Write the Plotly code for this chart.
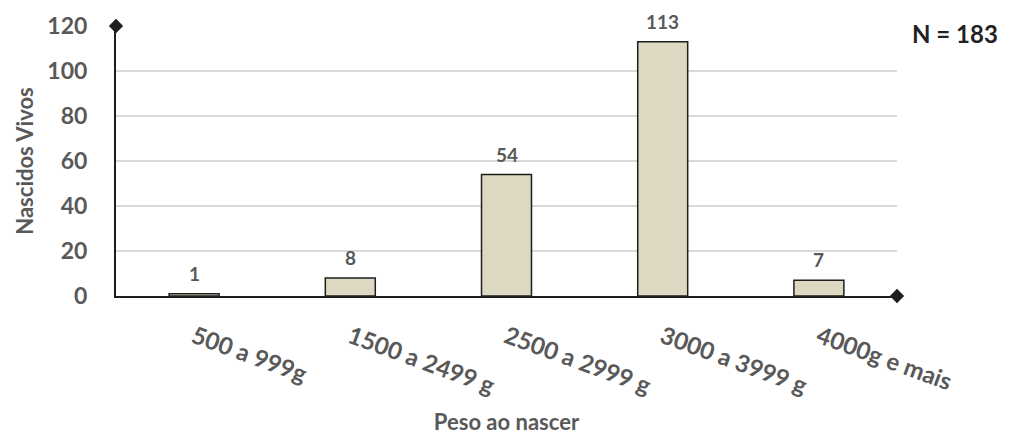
import plotly.graph_objects as go

categorias = ["500 a 999g", "1500 a 2499 g", "2500 a 2999 g", "3000 a 3999 g", "4000g e mais"]
nascidos = [1, 8, 54, 113, 7]
y_ticks = [0, 20, 40, 60, 80, 100, 120]
total = "N = 183"

FONT = "Lato, Open Sans, sans-serif"
GRAY = "#595959"

fig = go.Figure()
fig.add_trace(go.Bar(
    x=categorias,
    y=nascidos,
    width=0.32,
    marker=dict(color="#ddd8c1", line=dict(color="#1e1e1e", width=1.5)),
    showlegend=False,
))
# diamond ends of the axes
fig.add_trace(go.Scatter(
    x=[0, 1], y=[120, 0], xaxis="x2", mode="markers",
    marker=dict(symbol="diamond", size=11, color="#1e1e1e"),
    cliponaxis=False, showlegend=False, hoverinfo="skip",
))

fig.update_layout(
    width=1001, height=427,
    paper_bgcolor="white", plot_bgcolor="white",
    margin=dict(l=108, r=112, t=18, b=139),
    font=dict(family=FONT, color=GRAY),
    xaxis=dict(
        automargin=False,
        showline=True, linecolor="#1e1e1e", linewidth=2,
        tickangle=20, tickfont=dict(size=24, color=GRAY, weight="bold"),
        ticks="", ticklabelstandoff=16,
        title=dict(text="<b>Peso ao nascer</b>", font=dict(size=22, color=GRAY), standoff=17),
    ),
    xaxis2=dict(overlaying="x", range=[0, 1], visible=False),
    yaxis=dict(
        automargin=False,
        range=[0, 120], tickvals=y_ticks,
        showgrid=True, gridcolor="#d9d9d9", gridwidth=1.5,
        showline=True, linecolor="#1e1e1e", linewidth=2,
        zeroline=False,
        tickfont=dict(size=23, color=GRAY, weight="bold"),
        ticklabelstandoff=22,
        title=dict(text="<b>Nascidos Vivos</b>", font=dict(size=22, color=GRAY), standoff=8),
    ),
)

# value labels above the bars
for cat, val in zip(categorias, nascidos):
    fig.add_annotation(
        x=cat, y=val, text=f"<b>{val}</b>", showarrow=False,
        yanchor="bottom", yshift=7,
        font=dict(family=FONT, size=19, color=GRAY),
    )

fig.add_annotation(
    text=f"<b>{total}</b>", xref="paper", yref="paper", x=1.074, y=0.974,
    xanchor="center", yanchor="middle", showarrow=False,
    font=dict(size=24, color="#222222", family=FONT),
)

fig.write_html("out.html")
